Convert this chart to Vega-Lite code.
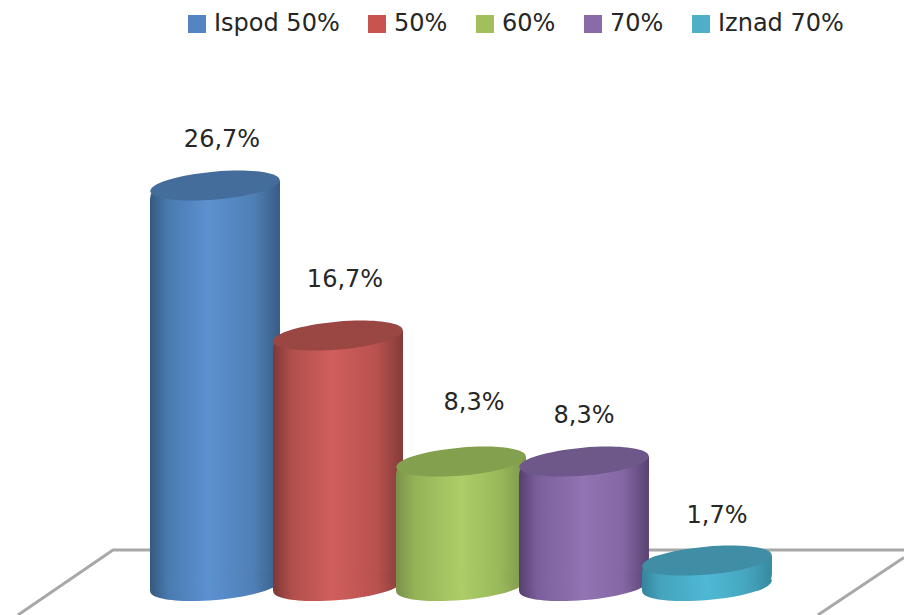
{
"$schema":"https://vega.github.io/schema/vega-lite/v6.json",
"width":904,"height":615,"padding":0,
"autosize":{"type":"none"},
"background":"white",
"config":{"view":{"stroke":null},"font":"DejaVu Sans"},
"data":{"values":[
{"series":"Ispod 50%","pos":1,"value":26.7,"label":"26,7%"},
{"series":"50%","pos":2,"value":16.7,"label":"16,7%"},
{"series":"60%","pos":3,"value":8.3,"label":"8,3%"},
{"series":"70%","pos":4,"value":8.3,"label":"8,3%"},
{"series":"Iznad 70%","pos":5,"value":1.7,"label":"1,7%"}
]},
"encoding":{
"x":{"field":"pos","type":"quantitative","axis":null,"scale":{"domain":[-0.748,6.602],"nice":false,"zero":false,"padding":0}},
"y":{"field":"value","type":"quantitative","axis":null,"scale":{"domain":[-1.93,39.07],"nice":false,"zero":false}}
},
"layer":[
{"data":{"values":[
{"line":"a","fx":-0.602,"fy":-1.93},{"line":"a","fx":0.171,"fy":2.4},{"line":"a","fx":6.602,"fy":2.4},
{"line":"b","fx":6.602,"fy":1.9},{"line":"b","fx":5.902,"fy":-1.93}
]},
"mark":{"type":"line","color":"#a8a8a8","strokeWidth":3},
"encoding":{
"x":{"field":"fx","type":"quantitative"},
"y":{"field":"fy","type":"quantitative"},
"detail":{"field":"line"}
}},
{"mark":{"type":"point","filled":true,"size":0},
"encoding":{"color":{"field":"series","type":"nominal",
"scale":{"domain":["Ispod 50%","50%","60%","70%","Iznad 70%"],"range":["#5585c0","#c9534f","#a3bf5c","#8a6aa8","#4fafc9"]},
"legend":{"title":null,"orient":"none","legendX":185,"legendY":12,"direction":"horizontal","columns":5,"symbolType":"square","symbolSize":324,"symbolOpacity":1,"labelFont":"DejaVu Sans","labelFontSize":24,"labelColor":"#262626","columnPadding":25,"labelOffset":5,"gridAlign":"each","labelLimit":300}}}},
{"transform":[{"filter":"datum.pos==1"}],"layer":[
{"mark":{"type":"bar","orient":"vertical","size":130,"yOffset":-5,"y2Offset":5,"cornerRadiusTopLeft":20,"cornerRadiusBottomRight":20,"fill":{"gradient":"linear","x1":0,"y1":0,"x2":1,"y2":0,"stops":[{"offset":0,"color":"#35597f"},{"offset":0.14,"color":"#4a7bb0"},{"offset":0.45,"color":"#5c91d0"},{"offset":0.8,"color":"#4f7fb5"},{"offset":1,"color":"#375c85"}]}},"encoding":{"y2":{"datum":0}}},
{"mark":{"type":"point","filled":true,"opacity":1,"shape":"M-1,0A1,0.215,0,1,1,1,0A1,0.215,0,1,1,-1,0Z","size":16900,"angle":-5,"fill":{"gradient":"linear","x1":0,"y1":0,"x2":1,"y2":0,"stops":[{"offset":0,"color":"#35597f"},{"offset":0.14,"color":"#4a7bb0"},{"offset":0.45,"color":"#5c91d0"},{"offset":0.8,"color":"#4f7fb5"},{"offset":1,"color":"#375c85"}]}},"encoding":{"y":{"datum":0}}},
{"mark":{"type":"point","filled":true,"opacity":1,"shape":"M-1,0A1,0.215,0,1,1,1,0A1,0.215,0,1,1,-1,0Z","size":16900,"angle":-5,"fill":"#446d9b"}},
{"mark":{"type":"text","font":"DejaVu Sans","fontSize":24,"color":"#262626","dx":7,"dy":-46},"encoding":{"text":{"field":"label"}}}
]},
{"transform":[{"filter":"datum.pos==2"}],"layer":[
{"mark":{"type":"bar","orient":"vertical","size":130,"yOffset":-5,"y2Offset":5,"cornerRadiusTopLeft":20,"cornerRadiusBottomRight":20,"fill":{"gradient":"linear","x1":0,"y1":0,"x2":1,"y2":0,"stops":[{"offset":0,"color":"#7d3836"},{"offset":0.14,"color":"#b04f4c"},{"offset":0.45,"color":"#d05e5b"},{"offset":0.8,"color":"#b8524f"},{"offset":1,"color":"#843b39"}]}},"encoding":{"y2":{"datum":0}}},
{"mark":{"type":"point","filled":true,"opacity":1,"shape":"M-1,0A1,0.215,0,1,1,1,0A1,0.215,0,1,1,-1,0Z","size":16900,"angle":-5,"fill":{"gradient":"linear","x1":0,"y1":0,"x2":1,"y2":0,"stops":[{"offset":0,"color":"#7d3836"},{"offset":0.14,"color":"#b04f4c"},{"offset":0.45,"color":"#d05e5b"},{"offset":0.8,"color":"#b8524f"},{"offset":1,"color":"#843b39"}]}},"encoding":{"y":{"datum":0}}},
{"mark":{"type":"point","filled":true,"opacity":1,"shape":"M-1,0A1,0.215,0,1,1,1,0A1,0.215,0,1,1,-1,0Z","size":16900,"angle":-5,"fill":"#9a4744"}},
{"mark":{"type":"text","font":"DejaVu Sans","fontSize":24,"color":"#262626","dx":7,"dy":-56},"encoding":{"text":{"field":"label"}}}
]},
{"transform":[{"filter":"datum.pos==3"}],"layer":[
{"mark":{"type":"bar","orient":"vertical","size":130,"yOffset":-5,"y2Offset":5,"cornerRadiusTopLeft":20,"cornerRadiusBottomRight":20,"fill":{"gradient":"linear","x1":0,"y1":0,"x2":1,"y2":0,"stops":[{"offset":0,"color":"#7a9148"},{"offset":0.14,"color":"#94b257"},{"offset":0.5,"color":"#adcd68"},{"offset":0.8,"color":"#99b85a"},{"offset":1,"color":"#7e964a"}]}},"encoding":{"y2":{"datum":0}}},
{"mark":{"type":"point","filled":true,"opacity":1,"shape":"M-1,0A1,0.215,0,1,1,1,0A1,0.215,0,1,1,-1,0Z","size":16900,"angle":-5,"fill":{"gradient":"linear","x1":0,"y1":0,"x2":1,"y2":0,"stops":[{"offset":0,"color":"#7a9148"},{"offset":0.14,"color":"#94b257"},{"offset":0.5,"color":"#adcd68"},{"offset":0.8,"color":"#99b85a"},{"offset":1,"color":"#7e964a"}]}},"encoding":{"y":{"datum":0}}},
{"mark":{"type":"point","filled":true,"opacity":1,"shape":"M-1,0A1,0.215,0,1,1,1,0A1,0.215,0,1,1,-1,0Z","size":16900,"angle":-5,"fill":"#83a04f"}},
{"mark":{"type":"text","font":"DejaVu Sans","fontSize":24,"color":"#262626","dx":13,"dy":-59},"encoding":{"text":{"field":"label"}}}
]},
{"transform":[{"filter":"datum.pos==4"}],"layer":[
{"mark":{"type":"bar","orient":"vertical","size":130,"yOffset":-5,"y2Offset":5,"cornerRadiusTopLeft":20,"cornerRadiusBottomRight":20,"fill":{"gradient":"linear","x1":0,"y1":0,"x2":1,"y2":0,"stops":[{"offset":0,"color":"#553f6e"},{"offset":0.14,"color":"#7b5f9c"},{"offset":0.5,"color":"#9273b3"},{"offset":0.8,"color":"#8467a3"},{"offset":1,"color":"#594372"}]}},"encoding":{"y2":{"datum":0}}},
{"mark":{"type":"point","filled":true,"opacity":1,"shape":"M-1,0A1,0.215,0,1,1,1,0A1,0.215,0,1,1,-1,0Z","size":16900,"angle":-5,"fill":{"gradient":"linear","x1":0,"y1":0,"x2":1,"y2":0,"stops":[{"offset":0,"color":"#553f6e"},{"offset":0.14,"color":"#7b5f9c"},{"offset":0.5,"color":"#9273b3"},{"offset":0.8,"color":"#8467a3"},{"offset":1,"color":"#594372"}]}},"encoding":{"y":{"datum":0}}},
{"mark":{"type":"point","filled":true,"opacity":1,"shape":"M-1,0A1,0.215,0,1,1,1,0A1,0.215,0,1,1,-1,0Z","size":16900,"angle":-5,"fill":"#6d5889"}},
{"mark":{"type":"text","font":"DejaVu Sans","fontSize":24,"color":"#262626","dx":0,"dy":-46},"encoding":{"text":{"field":"label"}}}
]},
{"transform":[{"filter":"datum.pos==5"}],"layer":[
{"mark":{"type":"bar","orient":"vertical","size":130,"yOffset":-5,"y2Offset":5,"cornerRadiusTopLeft":20,"cornerRadiusBottomRight":20,"fill":{"gradient":"linear","x1":0,"y1":0,"x2":1,"y2":0,"stops":[{"offset":0,"color":"#35849b"},{"offset":0.14,"color":"#45a3bd"},{"offset":0.5,"color":"#4fb8d4"},{"offset":0.8,"color":"#46a6c0"},{"offset":1,"color":"#378a9f"}]}},"encoding":{"y2":{"datum":0}}},
{"mark":{"type":"point","filled":true,"opacity":1,"shape":"M-1,0A1,0.215,0,1,1,1,0A1,0.215,0,1,1,-1,0Z","size":16900,"angle":-5,"fill":{"gradient":"linear","x1":0,"y1":0,"x2":1,"y2":0,"stops":[{"offset":0,"color":"#35849b"},{"offset":0.14,"color":"#45a3bd"},{"offset":0.5,"color":"#4fb8d4"},{"offset":0.8,"color":"#46a6c0"},{"offset":1,"color":"#378a9f"}]}},"encoding":{"y":{"datum":0}}},
{"mark":{"type":"point","filled":true,"opacity":1,"shape":"M-1,0A1,0.215,0,1,1,1,0A1,0.215,0,1,1,-1,0Z","size":16900,"angle":-5,"fill":"#3f8ea6"}},
{"mark":{"type":"text","font":"DejaVu Sans","fontSize":24,"color":"#262626","dx":10,"dy":-45},"encoding":{"text":{"field":"label"}}}
]}
]
}
